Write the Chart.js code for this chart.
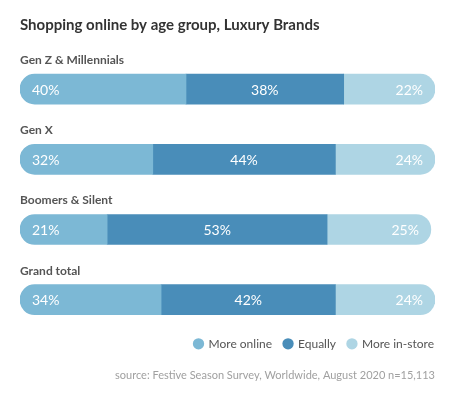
<!DOCTYPE html>
<html>
<head>
<meta charset="utf-8">
<script src="https://cdn.jsdelivr.net/npm/chart.js@4/dist/chart.umd.min.js"></script>
<style>
  html, body { margin: 0; padding: 0; background: #fff; }
  #wrap { width: 473px; height: 398px; position: relative; }
</style>
</head>
<body>
<div id="wrap"><canvas id="c" width="473" height="398"></canvas></div>
<script>
const categories = ['Gen Z & Millennials', 'Gen X', 'Boomers & Silent', 'Grand total'];
const seriesNames = ['More online', 'Equally', 'More in-store'];
const moreOnline = [40, 32, 21, 34];
const equally = [38, 44, 53, 42];
const moreInStore = [22, 24, 25, 24];
const titleText = 'Shopping online by age group, Luxury Brands';
const sourceText = 'source: Festive Season Survey, Worldwide, August 2020 n=15,113';

const colors = ['#7cb8d5', '#498db9', '#aed5e4'];
const FONT = 'Lato, "Open Sans", sans-serif';
const R = 15;

const labelsPlugin = {
  id: 'barLabels',
  afterUpdate(chart) {
    const lg = chart.legend;
    if (lg) {
      lg.left += 11; lg.right += 11;
      lg.top -= 9; lg.bottom -= 9;
      lg.adjustHitBoxes();
    }
  },
  afterDatasetsDraw(chart) {
    const ctx = chart.ctx;
    ctx.save();
    const meta0 = chart.getDatasetMeta(0);
    ctx.font = 'bold 12px ' + FONT;
    ctx.fillStyle = '#555';
    ctx.textAlign = 'left';
    ctx.textBaseline = 'middle';
    meta0.data.forEach((bar, j) => {
      ctx.fillText(categories[j], chart.chartArea.left, bar.y - bar.height / 2 - 14);
    });
    ctx.font = '14px ' + FONT;
    ctx.fillStyle = '#ffffff';
    chart.data.datasets.forEach((ds, i) => {
      const meta = chart.getDatasetMeta(i);
      meta.data.forEach((bar, j) => {
        const txt = ds.data[j] + '%';
        if (i === 0) {
          ctx.textAlign = 'left';
          ctx.fillText(txt, bar.base + 12, bar.y + 1);
        } else if (i === 1) {
          ctx.textAlign = 'center';
          ctx.fillText(txt, (bar.base + bar.x) / 2, bar.y + 1);
        } else {
          ctx.textAlign = 'right';
          ctx.fillText(txt, bar.x - 12, bar.y + 1);
        }
      });
    });
    ctx.restore();
  }
};

const seriesData = [moreOnline, equally, moreInStore];
const radii = [
  { topLeft: R, bottomLeft: R, topRight: 0, bottomRight: 0 },
  0,
  { topLeft: 0, bottomLeft: 0, topRight: R, bottomRight: R }
];

new Chart(document.getElementById('c'), {
  type: 'bar',
  data: {
    labels: categories,
    datasets: seriesNames.map((name, i) => ({
      label: name,
      data: seriesData[i],
      backgroundColor: colors[i],
      borderWidth: 0,
      borderSkipped: false,
      borderRadius: radii[i],
      barThickness: 30
    }))
  },
  options: {
    indexAxis: 'y',
    responsive: false,
    animation: false,
    devicePixelRatio: 1,
    layout: { padding: { left: 20, right: 38, top: 0, bottom: 0 } },
    scales: {
      x: { stacked: true, min: 0, max: 100, display: false },
      y: { stacked: true, display: false }
    },
    plugins: {
      tooltip: { enabled: false },
      title: {
        display: true,
        text: titleText,
        align: 'start',
        color: '#333',
        font: { family: FONT, size: 15, weight: 'bold' },
        padding: { top: 16, bottom: 20 }
      },
      legend: {
        display: true,
        position: 'bottom',
        align: 'end',
        labels: {
          usePointStyle: true,
          pointStyle: 'circle',
          boxWidth: 8,
          boxHeight: 8,
          color: '#555',
          font: { family: FONT, size: 12 },
          padding: 12
        }
      },
      subtitle: {
        display: true,
        position: 'bottom',
        align: 'end',
        text: sourceText,
        color: '#a0a0a0',
        font: { family: FONT, size: 11 },
        padding: { top: 0, bottom: 16 }
      }
    }
  },
  plugins: [labelsPlugin]
});
</script>
</body>
</html>
